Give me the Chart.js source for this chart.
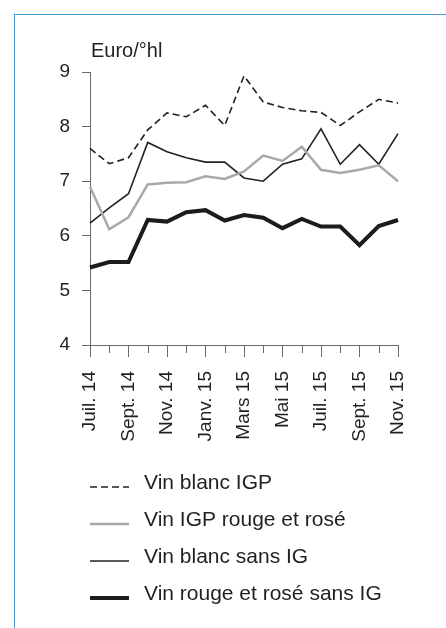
<!DOCTYPE html>
<html>
<head>
<meta charset="utf-8">
<script src="https://cdn.jsdelivr.net/npm/chart.js@4/dist/chart.umd.min.js"></script>
<style>
  html, body { margin: 0; padding: 0; background: #fff; }
  #frame {
    position: absolute; left: 14px; top: 14px; right: 0; bottom: 0;
    border-top: 1.5px solid #4a9bd6; border-left: 1.5px solid #4a9bd6;
  }
  #c { position: absolute; left: 0; top: 0; }
</style>
</head>
<body>
<div id="frame"></div>
<canvas id="c" width="446" height="628"></canvas>
<script>
// mois de juillet 2014 à novembre 2015
const months = ['Juil. 14', 'Août 14', 'Sept. 14', 'Oct. 14', 'Nov. 14', 'Déc. 14',
    'Janv. 15', 'Févr. 15', 'Mars 15', 'Avr. 15', 'Mai 15', 'Juin 15',
    'Juil. 15', 'Août 15', 'Sept. 15', 'Oct. 15', 'Nov. 15'];
const unit = 'Euro/°hl';
const yTicks = [4, 5, 6, 7, 8, 9];

const blancIGP = [7.60, 7.32, 7.43, 7.94, 8.25, 8.18, 8.39, 8.02, 8.93, 8.45, 8.35, 8.29, 8.26, 8.02, 8.27, 8.50, 8.43];
const rougeIGP = [6.90, 6.12, 6.34, 6.94, 6.97, 6.98, 7.09, 7.04, 7.18, 7.47, 7.37, 7.63, 7.21, 7.15, 7.21, 7.29, 7.00];
const blancSansIG = [6.23, 6.51, 6.77, 7.71, 7.54, 7.43, 7.35, 7.35, 7.06, 7.00, 7.31, 7.41, 7.96, 7.31, 7.67, 7.31, 7.87];
const rougeSansIG = [5.42, 5.52, 5.52, 6.29, 6.26, 6.43, 6.47, 6.28, 6.38, 6.33, 6.14, 6.31, 6.17, 6.17, 5.83, 6.18, 6.29];

const TEXT = '#231f20';
const AXIS = '#6a6a6a';
const FONT = '"Liberation Sans", Arial, sans-serif';

Chart.defaults.font.family = FONT;
Chart.defaults.color = TEXT;

// petits traits des mois sans étiquette, unité et légende
const extras = {
    id: 'extras',
    afterDraw(chart) {
        const ctx = chart.ctx;
        const xs = chart.scales.x;
        const area = chart.chartArea;
        ctx.save();
        ctx.strokeStyle = AXIS;
        ctx.lineWidth = 1;
        months.forEach((m, i) => {
            if (i % 2 === 1) {
                const px = Math.round(xs.getPixelForValue(i)) + 0.5;
                ctx.beginPath();
                ctx.moveTo(px, area.bottom);
                ctx.lineTo(px, area.bottom + 8);
                ctx.stroke();
            }
        });

        ctx.fillStyle = TEXT;
        ctx.textAlign = 'left';
        ctx.textBaseline = 'alphabetic';
        ctx.font = '20px ' + FONT;
        ctx.fillText(unit, area.left + 1, 57);

        ctx.font = '21px ' + FONT;
        chart.data.datasets.forEach((ds, i) => {
            const base = 489 + i * 37;
            ctx.beginPath();
            ctx.setLineDash(ds.borderDash || []);
            ctx.strokeStyle = ds.borderColor;
            ctx.lineWidth = ds.borderWidth;
            ctx.moveTo(90, base - 2);
            ctx.lineTo(129, base - 2);
            ctx.stroke();
            ctx.setLineDash([]);
            ctx.fillText(ds.label, 144, base);
        });
        ctx.restore();
    }
};

new Chart(document.getElementById('c'), {
    type: 'line',
    data: {
        labels: months,
        datasets: [
            { label: 'Vin blanc IGP', data: blancIGP, borderColor: '#222', borderWidth: 1.6, borderDash: [7, 4] },
            { label: 'Vin IGP rouge et rosé', data: rougeIGP, borderColor: '#a9a9a9', borderWidth: 2.5 },
            { label: 'Vin blanc sans IG', data: blancSansIG, borderColor: '#222', borderWidth: 1.6 },
            { label: 'Vin rouge et rosé sans IG', data: rougeSansIG, borderColor: '#1c1c1c', borderWidth: 4 }
        ]
    },
    options: {
        responsive: false,
        animation: false,
        layout: { padding: { left: 0, top: 72, right: 48, bottom: 173 } },
        elements: { point: { radius: 0 }, line: { tension: 0, borderJoinStyle: 'miter' } },
        plugins: { legend: { display: false }, tooltip: { enabled: false } },
        scales: {
            x: {
                offset: false,
                afterFit: s => { s.height = 110; },
                grid: {
                    drawOnChartArea: false,
                    tickLength: 12,
                    color: c => (c.index % 2 === 0 ? AXIS : 'rgba(0,0,0,0)')
                },
                border: { color: AXIS },
                ticks: {
                    autoSkip: false,
                    minRotation: 90,
                    maxRotation: 90,
                    padding: 14,
                    font: { size: 19 },
                    callback: function (v, i) { return i % 2 === 0 ? this.getLabelForValue(v) : ''; }
                }
            },
            y: {
                min: yTicks[0],
                max: yTicks[yTicks.length - 1],
                afterFit: s => { s.width = 90; },
                afterBuildTicks: s => { s.ticks = yTicks.map(v => ({ value: v })); },
                grid: { drawOnChartArea: false, tickLength: 8, color: AXIS },
                border: { color: AXIS },
                ticks: { padding: 12, font: { size: 19 } }
            }
        }
    },
    plugins: [extras]
});
</script>
</body>
</html>
